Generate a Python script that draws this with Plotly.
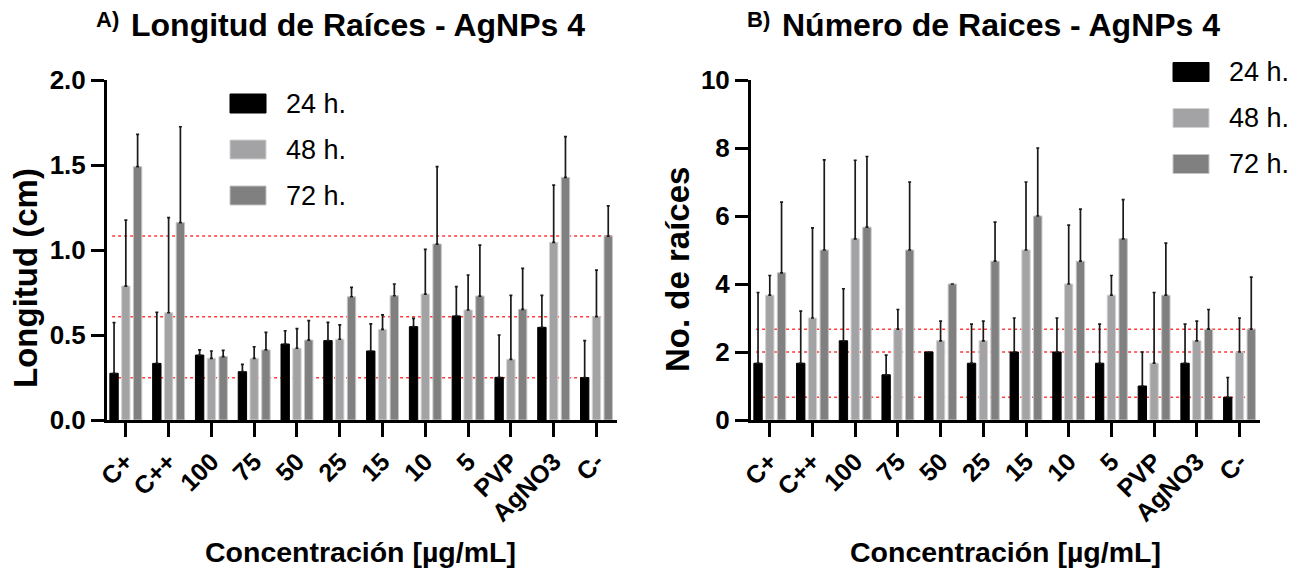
import plotly.graph_objects as go

W, H = 1304, 576

categories = ["C+", "C++", "100", "75", "50", "25", "15", "10", "5", "PVP", "AgNO3", "C-"]
series_names = ["24 h.", "48 h.", "72 h."]
series_colors = ["#000000", "#a3a3a6", "#808080"]
outline_colors = ["#000000", "#d2d2d2", "#c4c4c4"]

# Panel A: Longitud (cm)
long_24 = [0.275, 0.333, 0.382, 0.284, 0.447, 0.467, 0.406, 0.549, 0.612, 0.251, 0.545, 0.249]
long_24_err = [0.298, 0.300, 0.030, 0.043, 0.078, 0.107, 0.159, 0.049, 0.172, 0.249, 0.188, 0.218]
long_48 = [0.788, 0.631, 0.363, 0.363, 0.422, 0.475, 0.533, 0.741, 0.647, 0.357, 1.045, 0.608]
long_48_err = [0.388, 0.559, 0.043, 0.068, 0.115, 0.084, 0.085, 0.263, 0.206, 0.376, 0.337, 0.274]
long_72 = [1.490, 1.161, 0.373, 0.412, 0.470, 0.725, 0.731, 1.035, 0.729, 0.651, 1.427, 1.082]
long_72_err = [0.190, 0.564, 0.037, 0.104, 0.114, 0.055, 0.069, 0.455, 0.300, 0.241, 0.240, 0.177]

# Panel B: Numero de raices
num_24 = [1.67, 1.67, 2.33, 1.33, 2.00, 1.67, 2.00, 2.00, 1.67, 1.00, 1.67, 0.67]
num_24_err = [2.08, 1.53, 1.53, 0.58, None, 1.15, 1.00, 1.00, 1.15, 1.00, 1.15, 0.58]
num_48 = [3.67, 3.00, 5.33, 2.67, 2.33, 2.33, 5.00, 4.00, 3.67, 1.67, 2.33, 2.00]
num_48_err = [0.58, 2.65, 2.31, 0.58, 0.58, 0.58, 2.00, 1.73, 0.58, 2.08, 0.58, 1.00]
num_72 = [4.33, 5.00, 5.67, 5.00, 4.00, 4.67, 6.00, 4.67, 5.33, 3.67, 2.67, 2.67]
num_72_err = [2.08, 2.65, 2.08, 2.00, None, 1.15, 2.00, 1.53, 1.15, 1.53, 0.58, 1.53]

yticks_A = [0.0, 0.5, 1.0, 1.5, 2.0]
yticks_B = [0, 2, 4, 6, 8, 10]

FONT = "Liberation Sans, Arial, sans-serif"


def px(x):
    return x / W


def py(y):
    return 1 - y / H


fig = go.Figure()

panels = [
    ("x", "y", [long_24, long_48, long_72], [long_24_err, long_48_err, long_72_err]),
    ("x2", "y2", [num_24, num_48, num_72], [num_24_err, num_48_err, num_72_err]),
]

for xa, ya, vals, errs in panels:
    for i in range(3):
        fig.add_trace(go.Bar(
            x=categories, y=vals[i], name=series_names[i], xaxis=xa, yaxis=ya,
            marker=dict(color=series_colors[i], line=dict(color=outline_colors[i], width=1)),
            error_y=dict(type="data", symmetric=False, array=errs[i],
                         arrayminus=[0] * len(categories),
                         color="#1a1a1a", thickness=1.7, width=1.5),
            showlegend=False,
        ))
    # dotted reference lines at the C- values
    for i in range(3):
        fig.add_shape(type="line", xref=f"{xa} domain", yref=ya, x0=0.01, x1=0.99,
                      y0=vals[i][-1], y1=vals[i][-1], layer="below",
                      line=dict(color="#ff3b3b", width=1.5, dash="dot"))

xaxis_common = dict(
    type="category", range=[-0.44, 11.48], showline=True, linewidth=3, linecolor="black",
    ticks="outside", ticklen=14, tickwidth=3, tickcolor="black", tickangle=-45,
    tickfont=dict(family=FONT, size=25, color="black", weight="bold"),
    showgrid=False, zeroline=False, automargin=False,
)
yaxis_common = dict(
    showline=True, linewidth=3, linecolor="black", ticks="outside", ticklen=13,
    tickwidth=3, tickcolor="black",
    tickfont=dict(family=FONT, size=26, color="black", weight="bold"),
    showgrid=False, zeroline=False, domain=[py(420), py(80)], automargin=False,
)

fig.update_layout(
    width=W, height=H, margin=dict(l=0, r=0, t=0, b=0, autoexpand=False),
    paper_bgcolor="white", plot_bgcolor="white",
    barmode="group", bargap=0.174, bargroupgap=0.29,
    font=dict(family=FONT, color="black"),
    xaxis=dict(xaxis_common, domain=[px(107), px(617)], anchor="y"),
    xaxis2=dict(xaxis_common, domain=[px(751), px(1260)], anchor="y2"),
    yaxis=dict(yaxis_common, range=[0, 2], tickvals=yticks_A, tickformat=".1f", anchor="x"),
    yaxis2=dict(yaxis_common, range=[0, 10], tickvals=yticks_B, anchor="x2"),
)

ann = []
# titles
ann.append(dict(text="<b>A)</b>", x=px(94), y=py(20), xanchor="left", yanchor="middle",
                font=dict(size=22)))
ann.append(dict(text="<b>Longitud de Raíces - AgNPs 4</b>", x=px(129), y=py(25),
                xanchor="left", yanchor="middle", font=dict(size=32)))
ann.append(dict(text="<b>B)</b>", x=px(745), y=py(20), xanchor="left", yanchor="middle",
                font=dict(size=22)))
ann.append(dict(text="<b>Número de Raices - AgNPs 4</b>", x=px(780), y=py(25),
                xanchor="left", yanchor="middle", font=dict(size=32)))
# axis titles
ann.append(dict(text="<b>Longitud (cm)</b>", x=px(25), y=py(278), textangle=-90,
                xanchor="center", yanchor="middle", font=dict(size=33)))
ann.append(dict(text="<b>No. de raíces</b>", x=px(677), y=py(269), textangle=-90,
                xanchor="center", yanchor="middle", font=dict(size=33)))
ann.append(dict(text="<b>Concentración [µg/mL]</b>", x=px(360), y=py(552),
                xanchor="center", yanchor="middle", font=dict(size=28.5)))
ann.append(dict(text="<b>Concentración [µg/mL]</b>", x=px(1005), y=py(552),
                xanchor="center", yanchor="middle", font=dict(size=28.5)))

# legends (swatches + labels)
legend_pos = [(230, 103.5), (1173, 72)]
for lx, ly in legend_pos:
    for i, name in enumerate(series_names):
        cy = ly + i * 46
        fig.add_shape(type="rect", xref="paper", yref="paper",
                      x0=px(lx), x1=px(lx + 36), y0=py(cy - 9.5), y1=py(cy + 9.5),
                      fillcolor=series_colors[i], line=dict(color=outline_colors[i], width=1))
        ann.append(dict(text=name, x=px(lx + 54), y=py(cy), xanchor="left", yanchor="middle",
                        font=dict(size=27)))

for a in ann:
    a.update(xref="paper", yref="paper", showarrow=False)
    a["font"] = dict(family=FONT, color="black", **a["font"])
fig.update_layout(annotations=ann)

fig.write_html("out.html")
